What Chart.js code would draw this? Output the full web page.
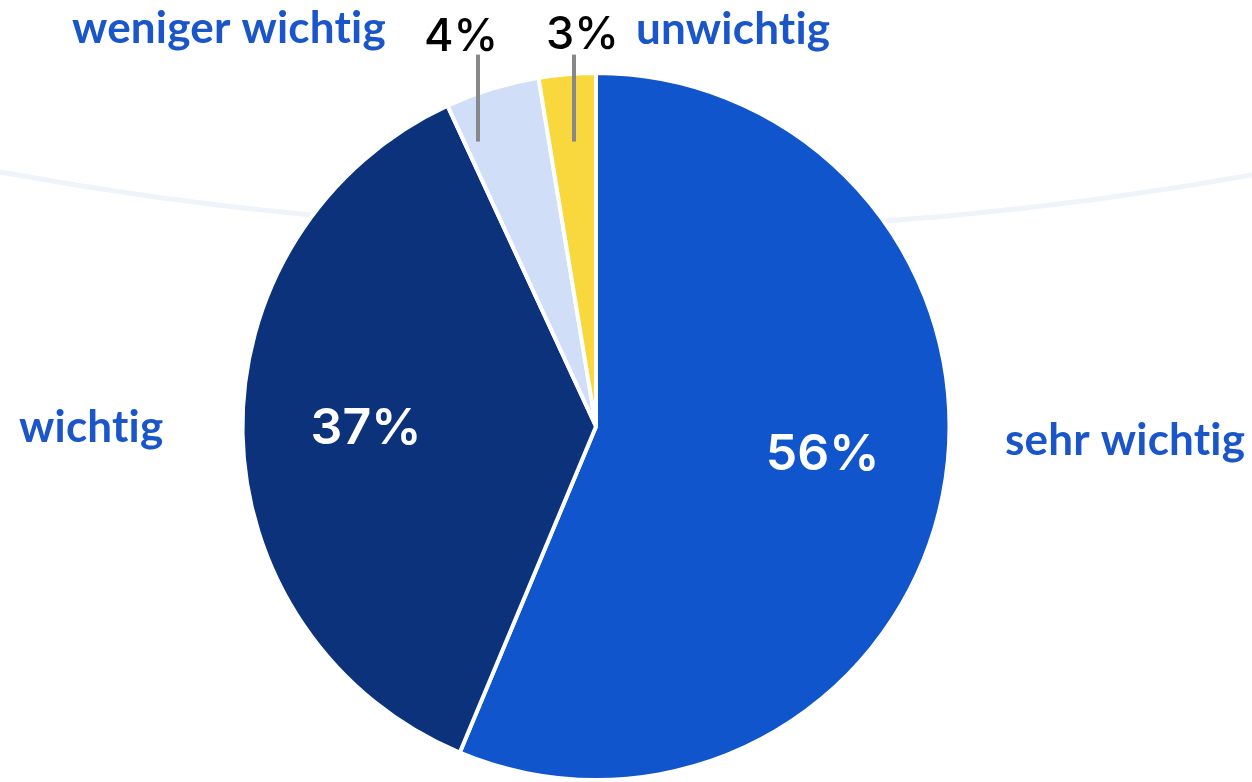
<!DOCTYPE html>
<html lang="de">
<head>
<meta charset="utf-8">
<script src="https://cdn.jsdelivr.net/npm/chart.js@4.4.1/dist/chart.umd.min.js"></script>
<style>
  html, body { margin: 0; padding: 0; background: #ffffff; }
  #wrap { width: 1252px; height: 782px; position: relative; }
</style>
</head>
<body>
<div id="wrap"><canvas id="pieChart" width="1252" height="782"></canvas></div>
<script>
// data (slice sizes, labels show them rounded)
const categories = ['sehr wichtig', 'wichtig', 'weniger wichtig', 'unwichtig'];
const values = [56.3, 36.8, 4.3, 2.6];
const sliceColors = ['#1055cc', '#0b327a', '#d0dff7', '#f9d83e'];

// label placement, relative to pie centre (px) - baseline positions
const nameLayout = [
    { dx: 409, dy: 28 },    // sehr wichtig
    { dx: -577, dy: 15 },   // wichtig
    { dx: -524, dy: -384 }, // weniger wichtig
    { dx: 40, dy: -383 }    // unwichtig
];
const insideNudge = [{ dx: 3, dy: -16 }, { dx: -2, dy: -2 }];
const smallPctLayout = {
    2: { lineDx: -118, textDx: -172, textDy: -376 },
    3: { lineDx: -22, textDx: -50, textDy: -378 }
};

const labelBlue = '#1a56c9';

// faint arc behind the pie
const backdropArc = {
    id: 'backdropArc',
    beforeDraw(chart) {
        const ctx = chart.ctx;
        ctx.save();
        ctx.strokeStyle = '#eff3fa';
        ctx.lineWidth = 5;
        ctx.beginPath();
        ctx.moveTo(0, 172);
        ctx.quadraticCurveTo(626, 287, chart.width, 175);
        ctx.stroke();
        ctx.restore();
    }
};

const pieLabels = {
    id: 'pieLabels',
    afterDraw(chart) {
        const ctx = chart.ctx;
        const arcs = chart.getDatasetMeta(0).data;
        const cx = arcs[0].x;
        const cy = arcs[0].y;
        const r = arcs[0].outerRadius;
        ctx.save();

        // category names
        ctx.font = 'bold 44px Lato';
        ctx.letterSpacing = '0.2px';  // keeps the "ti" ligature away
        ctx.fillStyle = labelBlue;
        ctx.textAlign = 'left';
        ctx.textBaseline = 'alphabetic';
        categories.forEach((name, i) => {
            ctx.fillText(name, cx + nameLayout[i].dx, cy + nameLayout[i].dy);
        });
        ctx.letterSpacing = '0px';

        // percentages
        arcs.forEach((arc, i) => {
            const txt = Math.round(values[i]) + '%';
            if (smallPctLayout[i]) {
                const lay = smallPctLayout[i];
                ctx.strokeStyle = '#888888';
                ctx.lineWidth = 4;
                ctx.beginPath();
                ctx.moveTo(cx + lay.lineDx, cy - r * 1.052);
                ctx.lineTo(cx + lay.lineDx, cy - r * 0.806);
                ctx.stroke();
                ctx.font = '500 45px Inter';
                ctx.fillStyle = '#000000';
                ctx.textAlign = 'left';
                ctx.fillText(txt, cx + lay.textDx, cy + lay.textDy);
            } else {
                const mid = (arc.startAngle + arc.endAngle) / 2;
                const px = cx + Math.cos(mid) * r * 0.645 + insideNudge[i].dx;
                const py = cy + Math.sin(mid) * r * 0.645 + insideNudge[i].dy;
                ctx.font = '600 50px Inter';
                ctx.fillStyle = '#ffffff';
                ctx.textAlign = 'center';
                ctx.textBaseline = 'middle';
                ctx.fillText(txt, px, py);
                ctx.textBaseline = 'alphabetic';
            }
        });
        ctx.restore();
    }
};

const ctx = document.getElementById('pieChart').getContext('2d');
new Chart(ctx, {
    type: 'pie',
    data: {
        labels: categories,
        datasets: [{
            data: values,
            backgroundColor: sliceColors,
            borderColor: '#ffffff',
            borderWidth: 4
        }]
    },
    options: {
        responsive: false,
        animation: false,
        layout: { padding: { top: 71, bottom: -3, left: 0, right: 60 } },
        plugins: {
            legend: { display: false },
            tooltip: { enabled: false }
        }
    },
    plugins: [backdropArc, pieLabels]
});
</script>
</body>
</html>
